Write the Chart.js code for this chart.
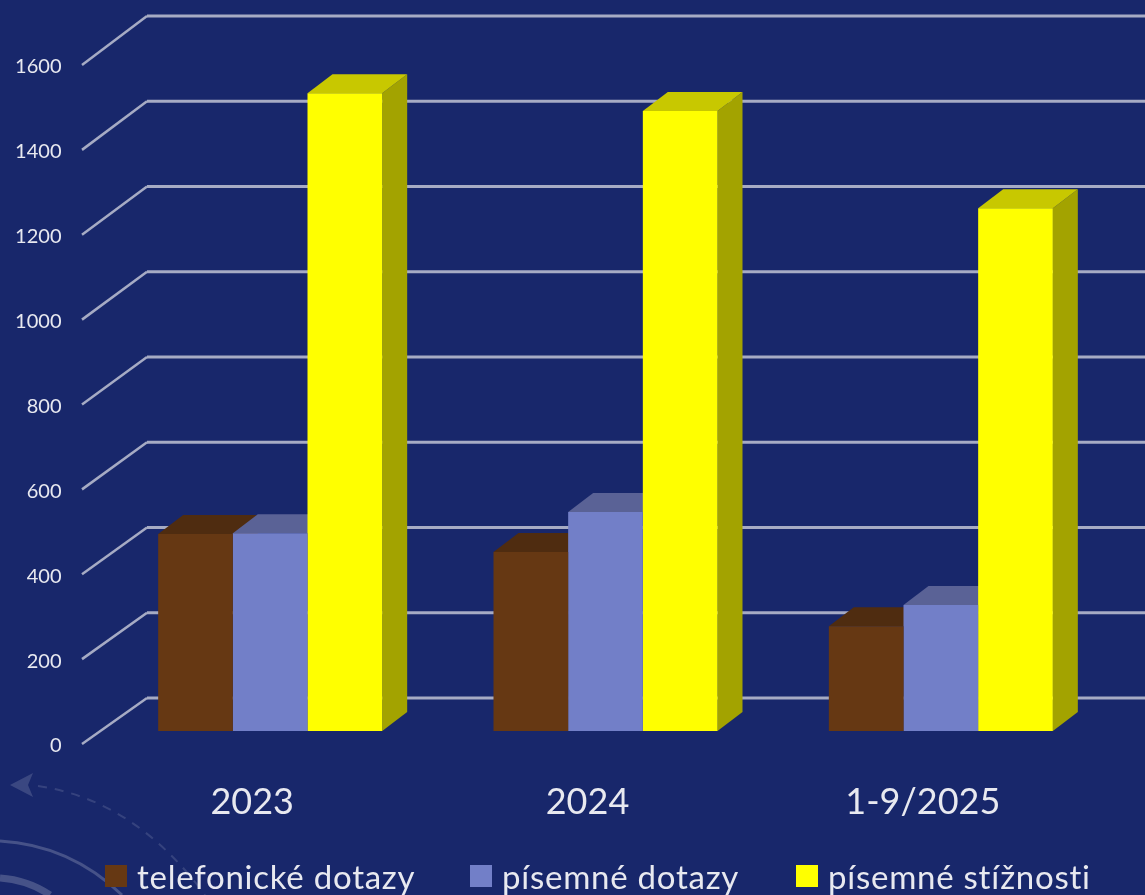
<!DOCTYPE html>
<html>
<head>
<meta charset="utf-8">
<title>Dotazy a stížnosti</title>
<script src="https://cdn.jsdelivr.net/npm/chart.js@4"></script>
<style>
    html, body { margin: 0; padding: 0; background: #18276b; overflow: hidden; }
    canvas { display: block; }
</style>
</head>
<body>
<canvas id="chart" width="1145" height="895"></canvas>
<script>
// Data
const categories = ['2023', '2024', '1-9/2025'];
const telefonicke = [464, 422, 247];
const pisemneDotazy = [466, 516, 297];
const pisemneStiznosti = [1503, 1461, 1232];
const seriesNames = ['telefonické dotazy', 'písemné dotazy', 'písemné stížnosti'];
const yTicks = [0, 200, 400, 600, 800, 1000, 1200, 1400, 1600];

const textColor = '#e8e9f0';
const fontName = 'Lato, "Open Sans", sans-serif';

// Barvy přední strany, vršku a boku sloupce
const frontColors = ['#663813', '#727fc8', '#ffff00'];
const topColors = ['#4f2c10', '#5a6296', '#c8c800'];
const sideColors = ['#452610', '#4f5685', '#a3a300'];

// Pozadí a dekorace vlevo dole
const backgroundPlugin = {
    id: 'background',
    beforeDraw(chart) {
        const ctx = chart.ctx;
        ctx.save();
        ctx.fillStyle = '#18276b';
        ctx.fillRect(0, 0, chart.width, chart.height);

        ctx.strokeStyle = 'rgba(255,255,255,0.2)';
        ctx.lineWidth = 3;
        ctx.beginPath();
        ctx.moveTo(0, 841);
        ctx.quadraticCurveTo(70, 845, 122, 895);
        ctx.stroke();

        ctx.lineWidth = 7;
        ctx.beginPath();
        ctx.moveTo(0, 878);
        ctx.quadraticCurveTo(28, 880, 50, 895);
        ctx.stroke();

        ctx.lineWidth = 2;
        ctx.setLineDash([9, 8]);
        ctx.strokeStyle = 'rgba(255,255,255,0.13)';
        ctx.beginPath();
        ctx.moveTo(38, 786);
        ctx.quadraticCurveTo(135, 800, 205, 895);
        ctx.stroke();
        ctx.setLineDash([]);

        ctx.fillStyle = 'rgba(255,255,255,0.15)';
        ctx.beginPath();
        ctx.moveTo(10, 785);
        ctx.lineTo(33, 773);
        ctx.lineTo(28, 785);
        ctx.lineTo(33, 797);
        ctx.closePath();
        ctx.fill();
        ctx.restore();
    }
};

// Mřížka a 3D strany sloupců, kreslí se pod přední stranu
const depthPlugin = {
    id: 'depth',
    beforeDatasetsDraw(chart) {
        const ctx = chart.ctx;
        const yScale = chart.scales.y;
        ctx.save();
        ctx.strokeStyle = '#a6abc4';
        ctx.lineJoin = 'round';
        yTicks.forEach(function (tick) {
            const y = yScale.getPixelForValue(tick);
            const backY = y - 33 - tick * 0.0019;
            ctx.lineWidth = 2.5;
            ctx.beginPath();
            ctx.moveTo(82, y + 13);
            ctx.lineTo(147, backY);
            ctx.stroke();
            ctx.lineWidth = 3;
            ctx.beginPath();
            ctx.moveTo(147, backY);
            ctx.lineTo(chart.width, backY);
            ctx.stroke();
        });

        const dx = 25;
        const dy = 19;
        chart.data.datasets.forEach(function (dataset, i) {
            chart.getDatasetMeta(i).data.forEach(function (bar) {
                const left = bar.x - bar.width / 2;
                const right = bar.x + bar.width / 2;
                ctx.fillStyle = sideColors[i];
                ctx.beginPath();
                ctx.moveTo(right, bar.y);
                ctx.lineTo(right + dx, bar.y - dy);
                ctx.lineTo(right + dx, bar.base - dy);
                ctx.lineTo(right, bar.base);
                ctx.closePath();
                ctx.fill();

                ctx.fillStyle = topColors[i];
                ctx.beginPath();
                ctx.moveTo(left, bar.y);
                ctx.lineTo(left + dx, bar.y - dy);
                ctx.lineTo(right + dx, bar.y - dy);
                ctx.lineTo(right, bar.y);
                ctx.closePath();
                ctx.fill();
            });
        });
        ctx.restore();
    }
};

// Legenda vlastní, vestavěná nedovolí tak malou mezeru mezi čtvercem a textem
const legendBoxX = [105, 470, 796];
const legendPlugin = {
    id: 'bottomLegend',
    afterDraw(chart) {
        const ctx = chart.ctx;
        ctx.save();
        ctx.font = '33px ' + fontName;
        ctx.letterSpacing = '0.75px';
        ctx.textBaseline = 'middle';
        chart.data.datasets.forEach(function (dataset, i) {
            ctx.fillStyle = dataset.backgroundColor;
            ctx.fillRect(legendBoxX[i], 865, 22, 22);
            ctx.fillStyle = textColor;
            ctx.fillText(dataset.label, legendBoxX[i] + 32, 878);
        });
        ctx.restore();
    }
};

const chart = new Chart(document.getElementById('chart'), {
    type: 'bar',
    data: {
        labels: categories,
        datasets: [
            { label: seriesNames[0], data: telefonicke, backgroundColor: frontColors[0] },
            { label: seriesNames[1], data: pisemneDotazy, backgroundColor: frontColors[1] },
            { label: seriesNames[2], data: pisemneStiznosti, backgroundColor: frontColors[2] }
        ]
    },
    options: {
        responsive: false,
        animation: false,
        layout: { padding: { top: 52, right: 36.5 } },
        datasets: { bar: { barPercentage: 1, categoryPercentage: 0.668 } },
        plugins: {
            legend: { display: false },
            tooltip: { enabled: false }
        },
        scales: {
            x: {
                grid: { display: false },
                border: { display: false },
                afterFit(scale) { scale.height = 164; },
                ticks: {
                    color: textColor,
                    font: { family: fontName, size: 36 },
                    padding: 42,
                    labelOffset: -18,
                    maxRotation: 0
                }
            },
            y: {
                min: 0,
                max: 1600,
                grid: { display: false },
                border: { display: false },
                afterFit(scale) { scale.width = 102.5; },
                afterBuildTicks(scale) {
                    scale.ticks = yTicks.map(function (v) { return { value: v }; });
                },
                ticks: {
                    color: textColor,
                    font: { family: fontName, size: 20 },
                    padding: 33,
                    labelOffset: 15,
                    callback: function (value) { return String(value); }
                }
            }
        }
    },
    plugins: [backgroundPlugin, depthPlugin, legendPlugin]
});
</script>
</body>
</html>
